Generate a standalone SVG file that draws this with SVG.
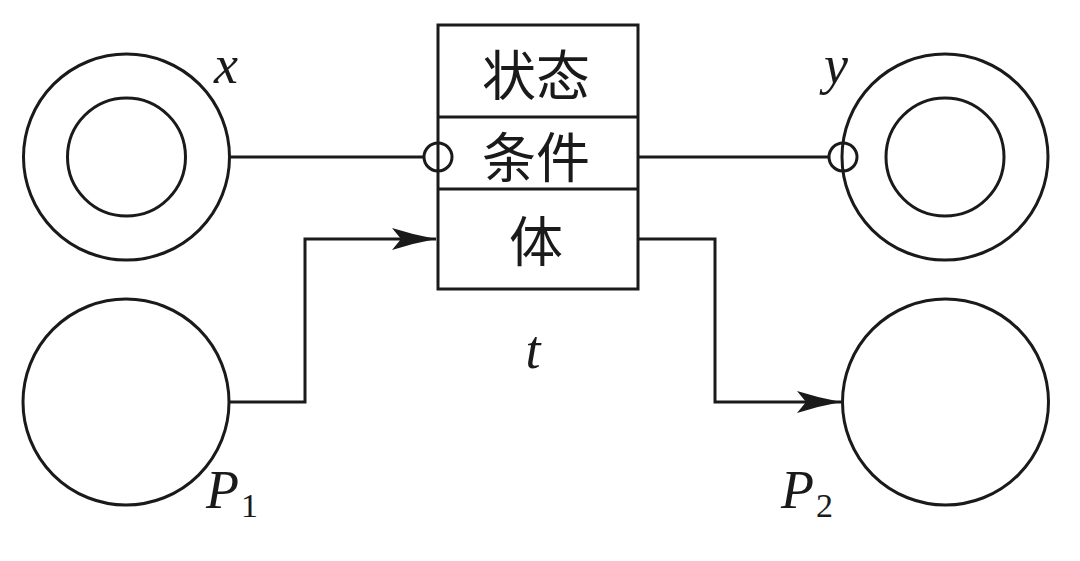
<svg xmlns="http://www.w3.org/2000/svg" width="1080" height="561" viewBox="0 0 1080 561">
<style>
.s{fill:none;stroke:#1a1a1a;stroke-width:3}
.cn{font-family:"Noto Sans CJK SC","Noto Sans CJK TC",sans-serif;font-size:54px;fill:#1a1a1a;text-anchor:middle;dominant-baseline:central}
.it{font-family:"Liberation Serif","Times New Roman",serif;font-style:italic;font-size:54px;fill:#1a1a1a}
.sub{font-family:"Liberation Serif","Times New Roman",serif;font-size:34px;fill:#1a1a1a}
</style>
<defs>
<marker id="arr" viewBox="0 0 44 22" refX="44" refY="11" markerWidth="44" markerHeight="22" orient="auto" markerUnits="userSpaceOnUse">
<path d="M0,0 Q22,7 44,11 Q22,15 0,22 L9,11 Z" fill="#1a1a1a"/>
</marker>
</defs>
<rect width="1080" height="561" fill="#ffffff"/>
<g id="place-x">
<circle class="s" cx="126.5" cy="157" r="103"/>
<circle class="s" cx="126.5" cy="157" r="59"/>
<text class="it" x="226" y="83" text-anchor="middle">x</text>
</g>
<g id="place-y">
<circle class="s" cx="945" cy="157" r="103"/>
<circle class="s" cx="945" cy="157" r="59"/>
<text class="it" x="836" y="83" text-anchor="middle">y</text>
</g>
<g id="place-P1">
<circle class="s" cx="126" cy="402" r="103"/>
<text class="it" x="206" y="508">P<tspan class="sub" font-style="normal" dx="2" dy="9">1</tspan></text>
</g>
<g id="place-P2">
<circle class="s" cx="945.5" cy="402" r="103"/>
<text class="it" x="781" y="508">P<tspan class="sub" font-style="normal" dx="2" dy="9">2</tspan></text>
</g>
<g id="transition-t">
<rect class="s" x="438" y="25" width="200" height="264"/>
<line class="s" x1="438" y1="117" x2="638" y2="117"/>
<line class="s" x1="438" y1="189" x2="638" y2="189"/>
<text class="cn" x="536" y="72">状态</text>
<text class="cn" x="536" y="154">条件</text>
<text class="cn" x="536" y="238">体</text>
<text class="it" x="533" y="368" text-anchor="middle">t</text>
</g>
<g id="connectors">
<line class="s" x1="229" y1="157" x2="424" y2="157"/>
<circle class="s" cx="438" cy="157" r="14"/>
<line class="s" x1="638" y1="157" x2="829" y2="157"/>
<circle class="s" cx="843" cy="157" r="14"/>
<polyline class="s" points="229,402 305,402 305,239 436,239" marker-end="url(#arr)"/>
<polyline class="s" points="638,239 715,239 715,402 841,402" marker-end="url(#arr)"/>
</g>
</svg>
